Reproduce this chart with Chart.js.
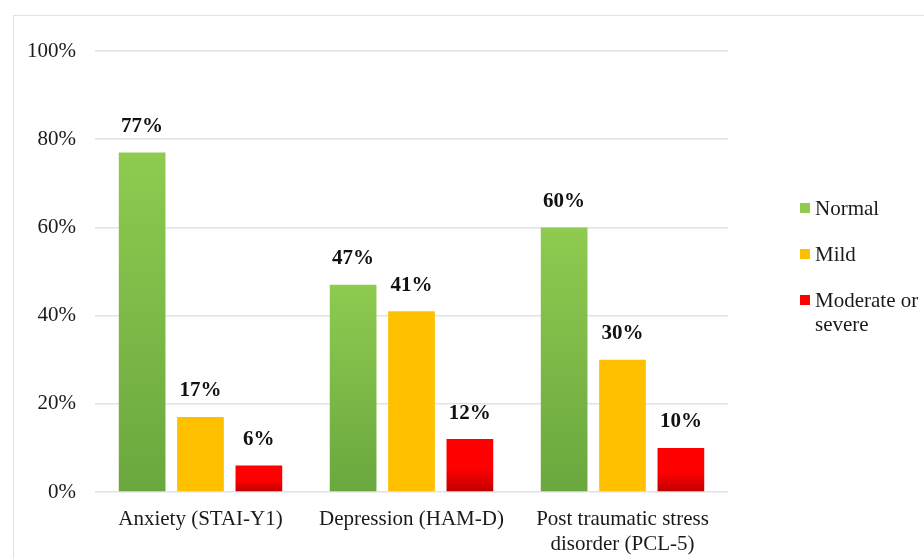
<!DOCTYPE html>
<html>
<head>
<meta charset="utf-8">
<script src="https://cdn.jsdelivr.net/npm/chart.js@4.4.0/dist/chart.umd.min.js"></script>
<style>
    body { margin: 0; background: #fff; overflow: hidden; }
    #wrap { position: relative; width: 924px; height: 559px; }
    #frame { position: absolute; left: 13px; top: 15px; width: 1000px; height: 600px; border: 1px solid #dfe2ea; }
    canvas { position: absolute; left: 0; top: 0; }
    #legend { position: absolute; left: 800px; top: 196px; font-family: 'Liberation Serif', 'Times New Roman', serif; font-size: 21px; color: #1a1a1a; }
    .item { display: flex; align-items: flex-start; margin-bottom: 22px; line-height: 24px; }
    .box { width: 10px; height: 10px; margin-top: 7px; margin-right: 5px; flex: none; }
</style>
</head>
<body>
<div id="wrap">
    <div id="frame"></div>
    <canvas id="chart" width="924" height="559"></canvas>
    <div id="legend"></div>
</div>
<script>
const categories = ['Anxiety (STAI-Y1)', 'Depression (HAM-D)', ['Post traumatic stress', 'disorder (PCL-5)']];
const seriesNames = ['Normal', 'Mild', 'Moderate or severe'];
const normal = [77, 47, 60];
const mild = [17, 41, 30];
const moderate = [6, 12, 10];
const yTicks = [0, 20, 40, 60, 80, 100];

// colours for gradient top / bottom of each series
const colours = [
    ['#8fcb50', '#6aa73e'],
    ['#ffc000', '#ffc000'],
    ['#ff0000', '#c00000']
];

function barFill(idx) {
    return (ctx) => {
        const chart = ctx.chart;
        if (ctx.type !== 'data' || !chart.chartArea) return colours[idx][0];
        const y = chart.scales.y;
        const top = y.getPixelForValue(ctx.raw);
        const base = y.getPixelForValue(0);
        const g = chart.ctx.createLinearGradient(0, top, 0, base);
        g.addColorStop(0, colours[idx][0]);
        if (idx === 2) g.addColorStop(0.55, colours[idx][0]);
        g.addColorStop(1, colours[idx][1]);
        return g;
    };
}

const valueLabels = {
    id: 'valueLabels',
    afterDatasetsDraw(chart) {
        const c = chart.ctx;
        c.save();
        c.font = 'bold 21px "Liberation Serif", "Times New Roman", serif';
        c.fillStyle = '#111';
        c.textAlign = 'center';
        c.textBaseline = 'middle';
        chart.data.datasets.forEach((ds, i) => {
            chart.getDatasetMeta(i).data.forEach((bar, j) => {
                c.fillText(ds.data[j] + '%', bar.x, bar.y - 26);
            });
        });
        c.restore();
    }
};

const seriesData = [normal, mild, moderate];
const serif = '"Liberation Serif", "Times New Roman", serif';

new Chart(document.getElementById('chart'), {
    type: 'bar',
    data: {
        labels: categories,
        datasets: seriesNames.map((name, i) => ({
            label: name,
            data: seriesData[i],
            backgroundColor: barFill(i),
            categoryPercentage: 0.83,
            barPercentage: 0.8
        }))
    },
    options: {
        responsive: false,
        animation: false,
        layout: { padding: { left: 8, top: 51, right: 196, bottom: 2 } },
        plugins: {
            legend: { display: false },
            tooltip: { enabled: false }
        },
        scales: {
            x: {
                grid: { display: false, drawTicks: false },
                border: { display: false },
                afterFit: (axis) => { axis.height = 65; },
                ticks: {
                    color: '#1a1a1a',
                    padding: 15,
                    font: { family: serif, size: 21, lineHeight: 1.2 }
                }
            },
            y: {
                min: 0,
                max: 100,
                afterBuildTicks: (axis) => { axis.ticks = yTicks.map(v => ({ value: v })); },
                grid: { color: '#dfe2ea', lineWidth: 1.5, drawTicks: false },
                border: { display: false },
                ticks: {
                    color: '#1a1a1a',
                    padding: 19,
                    callback: (v) => v + '%',
                    font: { family: serif, size: 21 }
                }
            }
        }
    },
    plugins: [valueLabels]
});

const legend = document.getElementById('legend');
seriesNames.forEach((name, i) => {
    const item = document.createElement('div');
    item.className = 'item';
    const box = document.createElement('span');
    box.className = 'box';
    box.style.background = colours[i][0];
    const txt = document.createElement('span');
    txt.innerHTML = name === 'Moderate or severe' ? 'Moderate or<br>severe' : name;
    item.appendChild(box);
    item.appendChild(txt);
    legend.appendChild(item);
});
</script>
</body>
</html>
